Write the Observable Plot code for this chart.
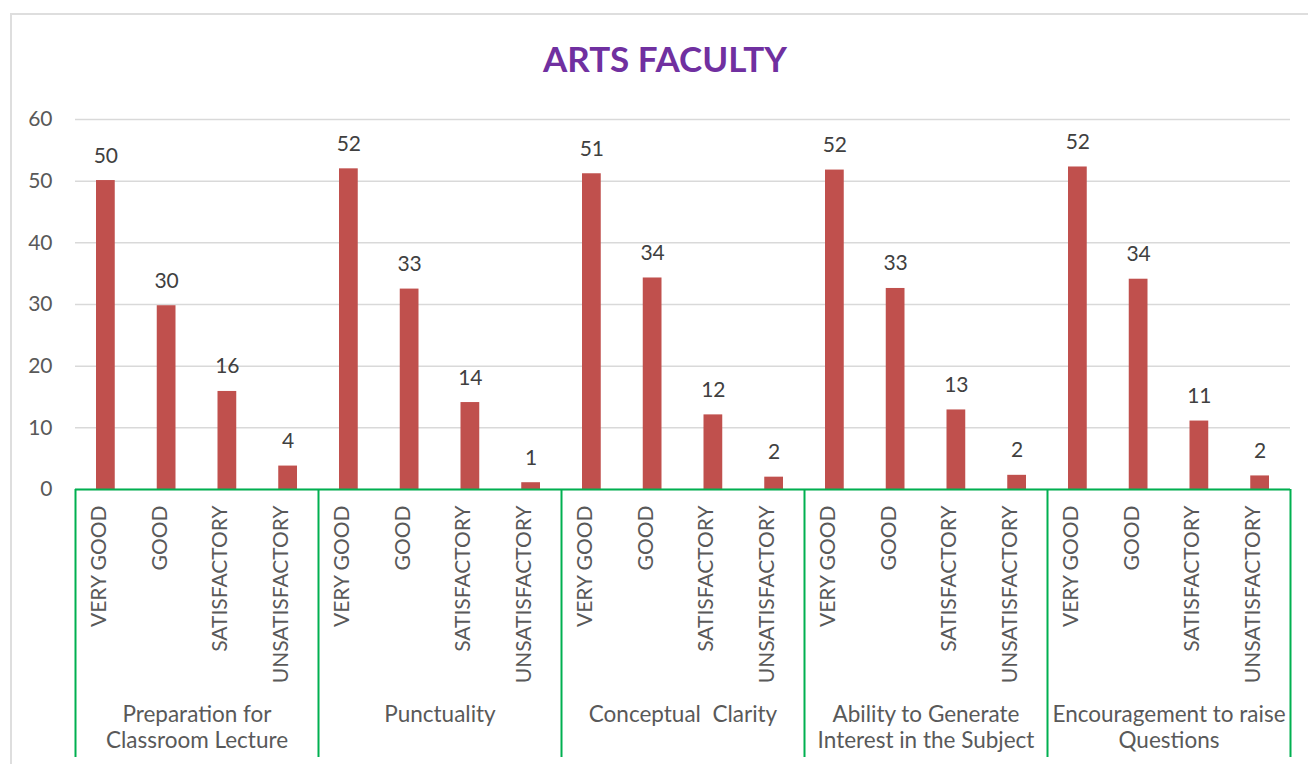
<!DOCTYPE html>
<html><head><meta charset="utf-8">
<script src="https://cdn.jsdelivr.net/npm/d3@7"></script>
<script src="https://cdn.jsdelivr.net/npm/@observablehq/plot@0.6"></script>
<style>
html,body{margin:0;padding:0;background:#fff;width:1308px;height:764px;overflow:hidden;}
#frame{position:absolute;left:10px;top:13px;width:1400px;height:800px;border:2px solid #dedede;box-sizing:border-box;}
#title{position:absolute;left:0;width:1330px;top:41px;text-align:center;font-family:Lato,sans-serif;font-weight:bold;font-size:35px;line-height:35px;color:#7030A0;}
#chart{position:absolute;left:0;top:100px;}
</style></head><body>
<div id="frame"></div>
<div id="title">ARTS FACULTY</div>
<div id="chart"></div>
<script>
const groups = [
  "Preparation for\nClassroom Lecture",
  "Punctuality",
  "Conceptual  Clarity",
  "Ability to Generate\nInterest in the Subject",
  "Encouragement to raise\nQuestions"
];
const ratings = ["VERY GOOD", "GOOD", "SATISFACTORY", "UNSATISFACTORY"];
const preparation = [50.1, 29.8, 15.9, 3.8];
const punctuality = [52.0, 32.5, 14.1, 1.1];
const clarity = [51.2, 34.3, 12.1, 2.0];
const interest = [51.8, 32.6, 12.9, 2.3];
const encouragement = [52.3, 34.1, 11.1, 2.2];
const yTicks = [0, 10, 20, 30, 40, 50, 60];

const series = [preparation, punctuality, clarity, interest, encouragement];
const rows = groups.flatMap((g, gi) => ratings.map((r, ri) => ({
  group: g, rating: r, value: series[gi][ri], idx: gi * ratings.length + ri
})));
const bounds = d3.range(0, rows.length + 1, ratings.length);

const plot = Plot.plot({
  width: 1308, height: 664,
  marginTop: 19, marginBottom: 275, marginLeft: 75, marginRight: 18,
  style: {fontFamily: "Lato, sans-serif", background: "transparent", color: "#595959"},
  x: {type: "linear", domain: [0, rows.length], axis: null},
  y: {domain: [0, 60], axis: null},
  marks: [
    Plot.gridY({ticks: yTicks, stroke: "#d9d9d9", strokeOpacity: 1, strokeWidth: 1.5}),
    Plot.axisY({ticks: yTicks, tickSize: 0, tickPadding: 23, fontSize: 21, label: null, tickFormat: d => String(d)}),
    Plot.rectY(rows, {x1: "idx", x2: d => d.idx + 1, y: "value", insetLeft: 21, insetRight: 21, fill: "#C0504D"}),
    Plot.text(rows, {x: d => d.idx + 0.5, y: "value", text: d => String(Math.round(d.value)),
      lineAnchor: "bottom", dy: -18, fontSize: 21, fill: "#404040"}),
    Plot.text(rows, {x: d => d.idx + 0.5, frameAnchor: "bottom", text: "rating", rotate: -90,
      textAnchor: "end", dy: 16, fontSize: 21, fill: "#595959"}),
    Plot.text(groups, {x: (d, i) => i * ratings.length + ratings.length / 2, frameAnchor: "bottom",
      text: d => d, lineAnchor: "top", dy: 215, lineHeight: 1.12, fontSize: 22.5, fill: "#595959"}),
    Plot.ruleX(bounds, {x: d => d, stroke: "#00B050", strokeWidth: 2, insetTop: 370, insetBottom: -268}),
    Plot.ruleY([0], {stroke: "#00B050", strokeWidth: 2})
  ]
});
document.getElementById("chart").appendChild(plot);
</script>
</body></html>
